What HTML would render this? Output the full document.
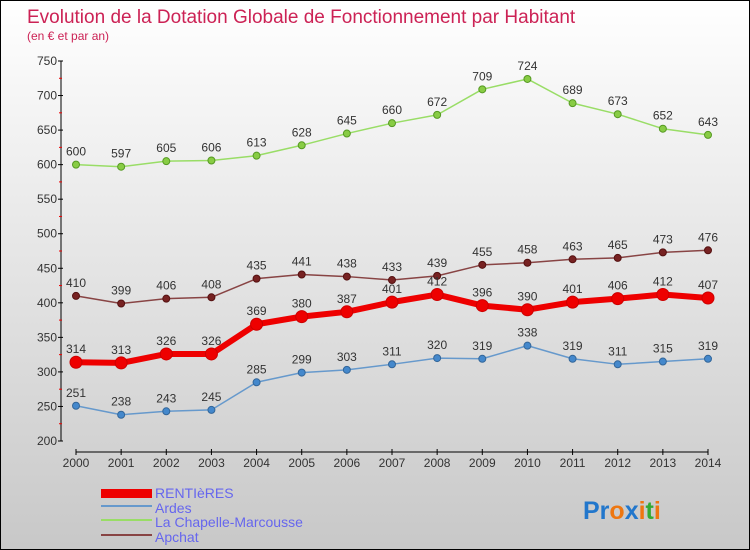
<!DOCTYPE html>
<html><head><meta charset="utf-8"><style>
body{margin:0}
#c{width:748px;height:548px;border:1px solid #000;background:linear-gradient(#ffffff,#c8c8c8);position:relative;font-family:"Liberation Sans",sans-serif;overflow:hidden}
</style></head><body>
<div id="c">
<svg id="s" width="748" height="548" xmlns="http://www.w3.org/2000/svg">
<text x="26" y="22" font-size="19" fill="#cc2255">Evolution de la Dotation Globale de Fonctionnement par Habitant</text>
<text x="26" y="39" font-size="12" fill="#cc2255">(en € et par an)</text>
<g id="axes"></g><g id="series"></g>
<g>
<rect x="100" y="488" width="51" height="9" fill="#ee0000"/>
<text x="154" y="497" font-size="14" fill="#6666ee">RENTIèRES</text>
<rect x="100" y="504" width="51" height="2" fill="#6699cc"/>
<text x="154" y="512" font-size="14" fill="#6666ee">Ardes</text>
<rect x="100" y="518" width="51" height="2" fill="#99dd66"/>
<text x="154" y="526" font-size="14" fill="#6666ee">La Chapelle-Marcousse</text>
<rect x="100" y="533" width="51" height="2" fill="#884444"/>
<text x="154" y="541" font-size="14" fill="#6666ee">Apchat</text>
</g>
<text x="582" y="518" font-size="25" font-weight="bold"><tspan fill="#2277cc">Pr</tspan><tspan fill="#ee7711">o</tspan><tspan fill="#2277cc">x</tspan><tspan fill="#ee7711">i</tspan><tspan fill="#33aa33">t</tspan><tspan fill="#ee7711">i</tspan></text>
</svg>
</div>
<script>
const years=[2000,2001,2002,2003,2004,2005,2006,2007,2008,2009,2010,2011,2012,2013,2014];
const rentieres=[314,313,326,326,369,380,387,401,412,396,390,401,406,412,407];
const ardes=[251,238,243,245,285,299,303,311,320,319,338,319,311,315,319];
const chapelle=[600,597,605,606,613,628,645,660,672,709,724,689,673,652,643];
const apchat=[410,399,406,408,435,441,438,433,439,455,458,463,465,473,476];
const yTicks=[200,250,300,350,400,450,500,550,600,650,700,750];
const NS="http://www.w3.org/2000/svg";
const xS=i=>75+i*(632/14);
const yS=v=>440-(v-200)*380/550;
function mk(tag,attrs,parent){const e=document.createElementNS(NS,tag);for(const k in attrs)e.setAttribute(k,attrs[k]);parent.appendChild(e);return e;}
const ax=document.getElementById('axes');
let l=mk('line',{x1:60,y1:60,x2:60,y2:440,stroke:'#000','stroke-width':1},ax);


l=mk('line',{x1:75,y1:451,x2:707,y2:451,stroke:'#000','stroke-width':1},ax);


yTicks.forEach(v=>{
 mk('line',{x1:57,y1:yS(v),x2:62,y2:yS(v),stroke:'#000'},ax);
 if(v<750) mk('line',{x1:58,y1:yS(v+25),x2:61,y2:yS(v+25),stroke:'#e00'},ax);
 const t=mk('text',{x:56,y:yS(v)+4,'font-size':12,'text-anchor':'end',fill:'#333'},ax);
 t.textContent=v;
 
 
});
years.forEach((y,i)=>{
 mk('line',{x1:xS(i),y1:448,x2:xS(i),y2:454,stroke:'#000'},ax);
 const t=mk('text',{x:xS(i),y:466,'font-size':12,'text-anchor':'middle',fill:'#333'},ax);
 t.textContent=y;
 
 
});
const sg=document.getElementById('series');
function draw(name,vals,color,width,r,mfill,mstroke){
 const g=mk('g',{},sg);
 
 
 const p=mk('polyline',{points:vals.map((v,i)=>xS(i)+','+yS(v)).join(' '),fill:'none',stroke:color,'stroke-width':width,'stroke-linejoin':'round'},g);
 
 
 vals.forEach((v,i)=>{
  const c=mk('circle',{cx:xS(i),cy:yS(v),r:r,fill:mfill,stroke:mstroke,'stroke-width':1},g);
  
  
  const t=mk('text',{x:xS(i),y:yS(v)-9,'font-size':12,'text-anchor':'middle',fill:'#333'},g);
  t.textContent=v;
  
  
 });
}
draw('chapelle',chapelle,'#99dd66',1.5,3.5,'#88cc44','#559922');
draw('apchat',apchat,'#884444',1.5,3.5,'#772222','#551111');
draw('ardes',ardes,'#6699cc',1.5,3.5,'#4488cc','#336699');
draw('rentieres',rentieres,'#ee0000',6,6,'#ee0000','#cc0000');
</script>
</body></html>
